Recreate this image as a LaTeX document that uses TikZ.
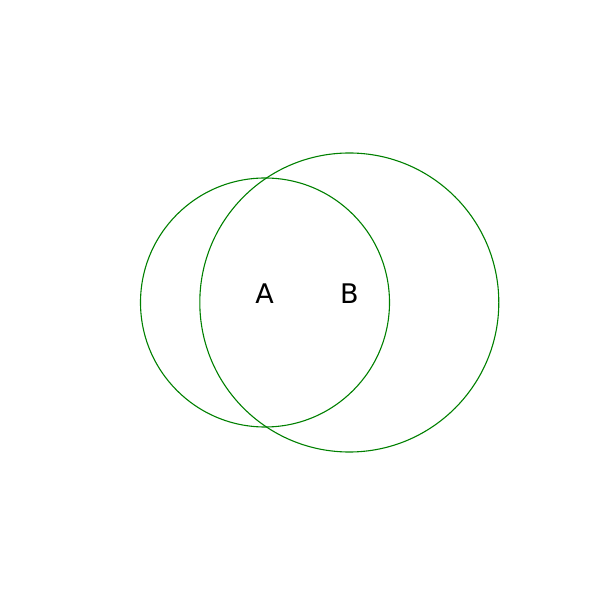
\documentclass[tikz,border=0pt]{standalone}
\usepackage{fontspec}
\setmainfont{DejaVu Sans}
\definecolor{vgreen}{HTML}{008000}
\tikzset{vcircle/.style={draw=vgreen,line width=1.1pt,circle,inner sep=0pt},
  vlabel/.style={font=\fontsize{27}{32}\selectfont,anchor=base,inner sep=0pt}}
\begin{document}
\begin{tikzpicture}[x=1pt,y=1pt]
\useasboundingbox (0,0) rectangle (600,600);
\node[vcircle,minimum size=249pt] (circA) at (265,297.5) {};
\node[vcircle,minimum size=299pt] (circB) at (349.3,297.5) {};
\node[vlabel] (labA) at (264.5,296.7) {A};
\node[vlabel] (labB) at (349.3,296.7) {B};
\end{tikzpicture}
\end{document}
